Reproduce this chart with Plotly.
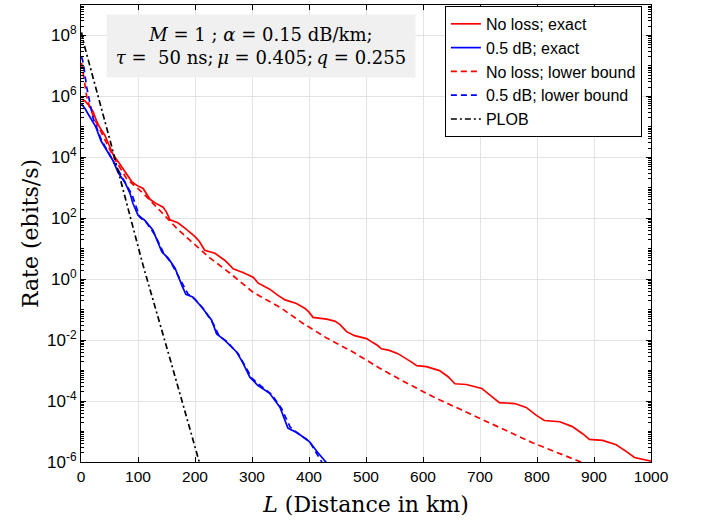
import plotly.graph_objects as go

# ---------------- data ----------------
red_exact_L = [1, 7, 14, 21, 27, 33, 42, 51, 56, 68, 80, 89, 98, 109, 121, 130, 144, 150, 156,
               170, 185, 200, 208, 217, 235, 252, 260, 267, 284, 302, 311, 331, 345, 358, 378,
               393, 400, 407, 431, 445, 454, 466, 480, 501, 512, 520, 527, 541, 556, 571, 580,
               589, 606, 629, 644, 656, 676, 703, 720, 734, 761, 781, 799, 813, 840, 862, 880,
               892, 915, 939, 957, 971, 1000]
red_exact_R = [8.3e5, 7.1e5, 5.0e5, 3.2e5, 1.6e5, 9.5e4, 5.2e4, 2.1e4, 1.26e4, 6.0e3, 2.8e3,
               1.6e3, 1.2e3, 9.5e2, 4.2e2, 3.2e2, 2.3e2, 1.6e2, 89, 71, 43, 25, 17, 8.9, 7.1,
               4.2, 3.0, 2.2, 1.66, 1.17, 0.74, 0.47, 0.30, 0.21, 0.16, 0.11, 0.083, 0.056,
               0.049, 0.042, 0.033, 0.019, 0.014, 0.0112, 0.0083, 0.0068, 0.0052, 0.0046,
               0.0036, 0.0025, 0.0019, 1.45e-3, 1.35e-3, 1.0e-3, 6.3e-4, 3.7e-4, 3.5e-4,
               2.6e-4, 1.5e-4, 8.9e-5, 8.3e-5, 6.2e-5, 3.4e-5, 2.3e-5, 2.1e-5, 1.45e-5,
               8.5e-6, 5.5e-6, 5.1e-6, 3.7e-6, 2.2e-6, 1.4e-6, 1.07e-6]

blue_exact_L = [1, 7, 12, 20, 26, 35, 42, 56, 65, 77, 86, 91, 100, 112, 126, 135, 142, 153, 165,
                177, 184, 196, 212, 229, 238, 252, 273, 284, 296, 310, 331, 349, 363, 380, 401,
                415, 431]
blue_exact_R = [5.6e5, 4.0e5, 2.75e5, 1.6e5, 1.0e5, 3.5e4, 2.2e4, 7.9e3, 3.2e3, 1.5e3, 6.6e2,
                3.1e2, 1.26e2, 85, 41, 15, 7.8, 4.9, 2.3, 0.63, 0.32, 0.26, 0.12, 0.046, 0.016,
                0.010, 4.1e-3, 1.8e-3, 6.2e-4, 3.3e-4, 1.8e-4, 6.3e-5, 1.3e-5, 8.9e-6, 4.6e-6,
                2.1e-6, 9.3e-7]

red_lb_L = [1, 5, 10, 15, 25, 40, 56, 80, 109, 135, 168, 191, 226, 261, 302, 349, 389, 431,
            477, 524, 559, 617, 705, 792, 880]
red_lb_R = [1.26e7, 4.0e6, 1.0e6, 4.5e5, 1.6e5, 4.5e4, 1.1e4, 2.0e3, 6.6e2, 2.1e2, 47, 19, 5.0,
            1.6, 0.37, 0.12, 0.036, 0.0117, 4.1e-3, 1.2e-3, 5.2e-4, 1.4e-4, 2.5e-5, 4.3e-6,
            9.5e-7]

blue_lb_L = [1, 4, 10, 16, 21, 35, 56, 72, 90, 103, 115, 130, 145, 158, 172, 188, 200, 215, 233,
             242, 256, 276, 288, 300, 315, 335, 352, 367, 383, 400, 408, 424]
blue_lb_R = [2.0e7, 1.26e7, 2.0e6, 5.0e5, 2.0e5, 4.0e4, 7.9e3, 2.2e3, 5.6e2, 1.1e2, 71, 28, 7.1,
             3.5, 1.1, 0.32, 0.22, 0.105, 0.032, 0.014, 8.9e-3, 3.5e-3, 1.4e-3, 5.6e-4, 3.2e-4,
             1.6e-4, 5.6e-5, 1.4e-5, 7.9e-6, 5.0e-6, 2.8e-6, 8.9e-7]

plob_L = [1, 4, 51, 109, 156, 208]
plob_R = [1.26e8, 6.3e7, 3.6e4, 2.8, 2.5e-3, 9.3e-7]

series_names = ["No loss; exact", "0.5 dB; exact", "No loss; lower bound",
                "0.5 dB; lower bound", "PLOB"]

x_ticks = [0, 100, 200, 300, 400, 500, 600, 700, 800, 900, 1000]
y_tick_exps = [-6, -4, -2, 0, 2, 4, 6, 8]
y_tickvals = [1e-6, 1e-4, 1e-2, 1e0, 1e2, 1e4, 1e6, 1e8]
y_ticktext = ["10<sup>%d</sup>" % e for e in y_tick_exps]
y_minor_vals = [m * 10.0 ** e for e in range(-6, 9) for m in range(1, 10)]

# ---------------- figure ----------------
fig = go.Figure()
LW = 1.7
fig.add_trace(go.Scatter(x=red_exact_L, y=red_exact_R, mode="lines", name=series_names[0],
                         line=dict(color="#ff0000", width=LW)))
fig.add_trace(go.Scatter(x=blue_exact_L, y=blue_exact_R, mode="lines", name=series_names[1],
                         line=dict(color="#0000ff", width=LW)))
fig.add_trace(go.Scatter(x=red_lb_L, y=red_lb_R, mode="lines", name=series_names[2],
                         line=dict(color="#ff0000", width=LW, dash="6px,4px")))
fig.add_trace(go.Scatter(x=blue_lb_L, y=blue_lb_R, mode="lines", name=series_names[3],
                         line=dict(color="#0000ff", width=LW, dash="6px,4px")))
fig.add_trace(go.Scatter(x=plob_L, y=plob_R, mode="lines", name=series_names[4],
                         line=dict(color="#000000", width=LW, dash="6px,3px,2px,3px")))
# invisible helper trace so the minor-tick axis is drawn
fig.add_trace(go.Scatter(x=[None], y=[None], yaxis="y2", showlegend=False,
                         hoverinfo="skip", mode="lines"))

tickfont = dict(family="Liberation Sans, Arial, sans-serif", size=15.5, color="black")
ytickfont = dict(family="Liberation Sans, Arial, sans-serif", size=17, color="black")
serif = "DejaVu Serif, serif"

fig.update_layout(
    width=702, height=526,
    margin=dict(l=81, r=51, t=5, b=64),
    paper_bgcolor="white", plot_bgcolor="white",
    showlegend=True,
    legend=dict(x=0.984, y=0.998, xanchor="right", yanchor="top",
                bgcolor="white", bordercolor="black", borderwidth=1,
                font=dict(family="Liberation Sans, Arial, sans-serif", size=16, color="black"),
                tracegroupgap=0),
    xaxis=dict(range=[0, 1000], tickvals=x_ticks, ticks="inside", ticklen=5,
               tickcolor="black", showline=True, linecolor="black", linewidth=1,
               mirror="ticks", showgrid=True, gridcolor="#e3e3e3", gridwidth=1,
               zeroline=False, tickfont=tickfont,
               title=dict(text="<i>L</i> (Distance in km)",
                          font=dict(family=serif, size=22, color="black"), standoff=13)),
    yaxis=dict(type="log", range=[-6, 9], tickvals=y_tickvals, ticktext=y_ticktext,
               ticks="inside", ticklen=5, tickcolor="black", showline=True,
               linecolor="black", linewidth=1, mirror="ticks", showgrid=True,
               gridcolor="#e3e3e3", gridwidth=1, zeroline=False, tickfont=ytickfont,
               title=dict(text="Rate (ebits/s)",
                          font=dict(family=serif, size=22, color="black"), standoff=2)),
    yaxis2=dict(type="log", range=[-6, 9], overlaying="y", side="left",
                tickvals=y_minor_vals, showticklabels=False, ticks="inside", ticklen=3,
                tickcolor="black", showline=True, linecolor="black", linewidth=1,
                mirror="ticks", showgrid=False, zeroline=False),
)

fig.add_annotation(
    xref="paper", yref="paper", x=0.316, y=0.911, xanchor="center", yanchor="middle",
    text="<i>M</i> = 1 ; <i>α</i> = 0.15 dB/km;<br><i>τ</i> =  50 ns;\u2009<i>μ</i> = 0.405;\u2009<i>q</i> = 0.255",
    showarrow=False, align="center", bgcolor="#f0f0f0", borderpad=4,
    width=300, height=54,
    font=dict(family=serif, size=18, color="black"),
)

fig.write_html("out.html")
